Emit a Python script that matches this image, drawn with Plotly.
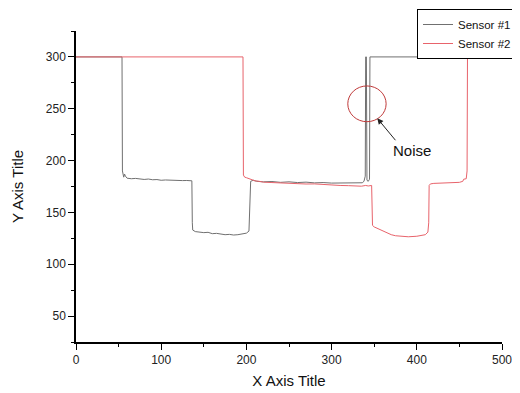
import plotly.graph_objects as go

# Sensor #1 (gray)
s1_x = [0, 54, 54.5, 55, 56, 57, 58, 60, 65, 70, 75, 80, 85, 90, 95, 100, 105, 110, 115, 120,
        125, 130, 136, 136.5, 137, 140, 145, 150, 155, 160, 165, 170, 175, 180, 185, 190, 195,
        200, 203, 204, 205, 208, 212, 220, 230, 240, 250, 260, 270, 280, 290, 300, 310, 320,
        330, 336, 338, 339.5, 340, 340.8, 341.5, 343, 344.5, 345, 500]
s1_y = [300, 300, 190, 186, 184, 187, 185, 183, 182.5, 182.8, 182, 181.8, 182.2, 181.5, 181.7,
        181, 181.3, 181, 180.8, 181, 180.7, 180.8, 180.5, 140, 133, 131.5, 131, 130.5, 130.8,
        129.5, 129.8, 129, 128.5, 128.8, 128.2, 128.5, 129.5, 130, 132, 160, 180, 181, 180,
        179.5, 179.8, 179, 179.5, 178.8, 179.2, 178.5, 178.8, 178.3, 178.5, 178.2, 178.4,
        178.6, 180, 185, 300, 300, 181, 180, 182, 300, 300]

# Sensor #2 (red)
s2_x = [0, 196, 196.5, 198, 200, 203, 206, 210, 215, 220, 230, 240, 250, 260, 270, 280, 290,
        300, 310, 320, 330, 335, 340, 343, 347, 347.5, 348, 350, 355, 360, 365, 370, 375, 380,
        390, 400, 405, 410, 413, 414, 414.5, 416, 420, 430, 440, 450, 454, 455, 458, 459,
        459.5, 500]
s2_y = [300, 300, 186, 184, 183.5, 182.5, 181.5, 180.5, 180, 179.2, 178.8, 178.3, 178, 177.6,
        177.4, 177.5, 176.8, 176.5, 176, 175.8, 175.5, 175.3, 176, 175.5, 176, 140, 137.5, 136,
        134, 132, 130, 128.5, 127.5, 127, 126.5, 127, 127.5, 128.5, 131, 140, 176, 177.5, 178,
        178.2, 178.5, 179, 180, 182, 182.5, 190, 300, 300]

series_names = ["Sensor #1", "Sensor #2"]
x_title = "X Axis Title"
y_title = "Y Axis Title"
note_text = "Noise"

fig = go.Figure()
fig.add_trace(go.Scatter(x=s1_x, y=s1_y, mode="lines", name=series_names[0],
                         line=dict(color="#707070", width=1)))
fig.add_trace(go.Scatter(x=s2_x, y=s2_y, mode="lines", name=series_names[1],
                         line=dict(color="#e8636b", width=1)))

fig.add_shape(type="circle", xref="x", yref="y", x0=319, x1=364, y0=237.5, y1=272,
              line=dict(color="#c03a3a", width=1))

fig.add_annotation(x=353.6, y=240.8, ax=376.4, ay=218.2, axref="x", ayref="y",
                   xref="x", yref="y", text="", showarrow=True, arrowhead=2,
                   arrowsize=1.2, arrowwidth=1, arrowcolor="#222222")
fig.add_annotation(x=394, y=210, xref="x", yref="y", text=note_text, showarrow=False,
                   font=dict(size=15, color="#111111"))

axis_common = dict(showline=True, linecolor="black", linewidth=1.5, ticks="outside",
                   ticklen=6, tickwidth=1.2, tickcolor="black", showgrid=False,
                   zeroline=False, mirror=False,
                   tickfont=dict(size=12, color="#222222"))

fig.update_xaxes(range=[0, 500], dtick=100, tick0=0,
                 minor=dict(dtick=50, ticks="outside", ticklen=3, tickcolor="black"),
                 title=dict(text=x_title, font=dict(size=15, color="#111111"), standoff=9),
                 **axis_common)
fig.update_yaxes(range=[25, 325], dtick=50, tick0=0,
                 minor=dict(dtick=25, ticks="outside", ticklen=3, tickcolor="black"),
                 title=dict(text=y_title, font=dict(size=15, color="#111111"), standoff=19),
                 **axis_common)

# page body has an 8px margin, so the figure is offset to compensate
fig.update_layout(
    width=520, height=385,
    margin=dict(l=68, r=26, t=23, b=51, autoexpand=False),
    paper_bgcolor="white", plot_bgcolor="white",
    font=dict(family="Liberation Sans, Arial, sans-serif"),
    legend=dict(x=0.8005, y=1.0707, xanchor="left", yanchor="top",
                bordercolor="black", borderwidth=1, bgcolor="white",
                font=dict(size=11.5, color="#111111"), itemwidth=30,
                tracegroupgap=0),
    showlegend=True,
)

fig.write_html("out.html")
